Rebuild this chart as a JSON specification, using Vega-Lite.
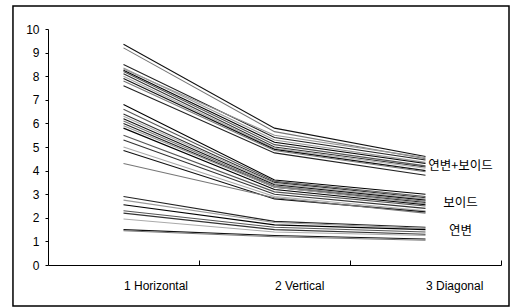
{
  "$schema": "https://vega.github.io/schema/vega-lite/v6.json",
  "width": 453,
  "height": 236,
  "padding": {"left": 12, "top": 5, "right": 2, "bottom": 3},
  "background": "white",
  "config": {
    "view": {"stroke": null},
    "axisY": {"tickCount": 11, "labelFontSize": 12, "labelOverlap": false, "tickSize": 3, "labelPadding": 6, "grid": false, "labelFont": "Liberation Sans", "labelColor": "#000", "domainColor": "#000", "tickColor": "#000", "title": null},
    "axisX": {"grid": false, "labelFont": "Liberation Sans", "labelFontSize": 12, "labelColor": "#000", "domainColor": "#000", "tickColor": "#000", "title": null}
  },
  "datasets": {
    "lines": [
      {"i":"a01","x":1,"y":9.35},{"i":"a01","x":2,"y":5.8},{"i":"a01","x":3,"y":4.6},
      {"i":"a02","x":1,"y":9.2},{"i":"a02","x":2,"y":5.65},{"i":"a02","x":3,"y":4.5},
      {"i":"a03","x":1,"y":8.5},{"i":"a03","x":2,"y":5.4},{"i":"a03","x":3,"y":4.45},
      {"i":"a04","x":1,"y":8.35},{"i":"a04","x":2,"y":5.3},{"i":"a04","x":3,"y":4.35},
      {"i":"a05","x":1,"y":8.25},{"i":"a05","x":2,"y":5.2},{"i":"a05","x":3,"y":4.3},
      {"i":"a06","x":1,"y":8.2},{"i":"a06","x":2,"y":5.1},{"i":"a06","x":3,"y":4.2},
      {"i":"a07","x":1,"y":8.1},{"i":"a07","x":2,"y":5.0},{"i":"a07","x":3,"y":4.15},
      {"i":"a08","x":1,"y":8.0},{"i":"a08","x":2,"y":4.95},{"i":"a08","x":3,"y":4.1},
      {"i":"a09","x":1,"y":7.9},{"i":"a09","x":2,"y":4.9},{"i":"a09","x":3,"y":4.0},
      {"i":"a10","x":1,"y":7.8},{"i":"a10","x":2,"y":4.85},{"i":"a10","x":3,"y":3.95},
      {"i":"a11","x":1,"y":7.6},{"i":"a11","x":2,"y":4.75},{"i":"a11","x":3,"y":3.8},
      {"i":"a12","x":1,"y":8.3},{"i":"a12","x":2,"y":5.5},{"i":"a12","x":3,"y":4.55},
      {"i":"b01","x":1,"y":6.8},{"i":"b01","x":2,"y":3.6},{"i":"b01","x":3,"y":3.0},
      {"i":"b02","x":1,"y":6.6},{"i":"b02","x":2,"y":3.55},{"i":"b02","x":3,"y":2.9},
      {"i":"b03","x":1,"y":6.4},{"i":"b03","x":2,"y":3.5},{"i":"b03","x":3,"y":2.85},
      {"i":"b04","x":1,"y":6.3},{"i":"b04","x":2,"y":3.45},{"i":"b04","x":3,"y":2.8},
      {"i":"b05","x":1,"y":6.2},{"i":"b05","x":2,"y":3.4},{"i":"b05","x":3,"y":2.75},
      {"i":"b06","x":1,"y":6.1},{"i":"b06","x":2,"y":3.35},{"i":"b06","x":3,"y":2.7},
      {"i":"b07","x":1,"y":6.0},{"i":"b07","x":2,"y":3.3},{"i":"b07","x":3,"y":2.65},
      {"i":"b08","x":1,"y":5.9},{"i":"b08","x":2,"y":3.3},{"i":"b08","x":3,"y":2.6},
      {"i":"b09","x":1,"y":5.8},{"i":"b09","x":2,"y":3.2},{"i":"b09","x":3,"y":2.55},
      {"i":"b10","x":1,"y":5.5},{"i":"b10","x":2,"y":3.1},{"i":"b10","x":3,"y":2.5},
      {"i":"b11","x":1,"y":5.3},{"i":"b11","x":2,"y":3.0},{"i":"b11","x":3,"y":2.4},
      {"i":"b12","x":1,"y":5.0},{"i":"b12","x":2,"y":2.9},{"i":"b12","x":3,"y":2.3},
      {"i":"b13","x":1,"y":4.85},{"i":"b13","x":2,"y":2.8},{"i":"b13","x":3,"y":2.25},
      {"i":"b14","x":1,"y":4.3},{"i":"b14","x":2,"y":2.85},{"i":"b14","x":3,"y":2.2},
      {"i":"c01","x":1,"y":2.9},{"i":"c01","x":2,"y":1.85},{"i":"c01","x":3,"y":1.6},
      {"i":"c02","x":1,"y":2.75},{"i":"c02","x":2,"y":1.8},{"i":"c02","x":3,"y":1.55},
      {"i":"c03","x":1,"y":2.55},{"i":"c03","x":2,"y":1.7},{"i":"c03","x":3,"y":1.5},
      {"i":"c04","x":1,"y":2.3},{"i":"c04","x":2,"y":1.6},{"i":"c04","x":3,"y":1.4},
      {"i":"c05","x":1,"y":2.2},{"i":"c05","x":2,"y":1.5},{"i":"c05","x":3,"y":1.3},
      {"i":"c06","x":1,"y":1.95},{"i":"c06","x":2,"y":1.4},{"i":"c06","x":3,"y":1.25},
      {"i":"c07","x":1,"y":1.5},{"i":"c07","x":2,"y":1.25},{"i":"c07","x":3,"y":1.1},
      {"i":"c08","x":1,"y":1.45},{"i":"c08","x":2,"y":1.2},{"i":"c08","x":3,"y":1.05}
    ],
    "labels": [
      {"t":"연변+보이드","x":3,"y":4.19},
      {"t":"보이드","x":3,"y":2.63},
      {"t":"연변","x":3,"y":1.44}
    ]
  },
  "layer": [
    {
      "data": {"name": "lines"},
      "mark": {"type": "line", "strokeWidth": 1.1},
      "encoding": {
        "x": {
          "field": "x", "type": "quantitative",
          "scale": {"domain": [0.5, 3.5], "nice": false, "zero": false},
          "axis": {
            "values": [1, 2, 3],
            "labelExpr": "datum.value == 1 ? '1  Horizontal' : datum.value == 2 ? '2  Vertical' : '3  Diagonal'",
            "labelAlign": "left", "tickOffset": 75.5, "labelOffset": -75.5,
            "tickSize": -5, "labelPadding": 20, "labelOverlap": false
          }
        },
        "y": {
          "field": "y", "type": "quantitative",
          "scale": {"domain": [0, 10], "nice": false},
          "axis": {"values": [0,1,2,3,4,5,6,7,8,9,10]}
        },
        "detail": {"field": "i"},
        "color": {
          "field": "i", "type": "nominal", "legend": null,
          "scale": {"range": ["#111", "#777", "#222", "#999", "#000", "#555", "#333", "#aaa"]}
        }
      }
    },
    {
      "data": {"values": [{}]},
      "mark": {"type": "rect", "fill": null, "stroke": "#000", "strokeWidth": 1.5, "clip": false},
      "encoding": {
        "x": {"datum": 0.268, "type": "quantitative"},
        "x2": {"datum": 3.553},
        "y": {"datum": -1.74, "type": "quantitative", "axis": {"values": [0,1,2,3,4,5,6,7,8,9,10]}},
        "y2": {"datum": 10.975}
      }
    },
    {
      "data": {"name": "labels"},
      "mark": {"type": "text", "align": "center", "baseline": "middle", "dx": 35, "font": "Noto Sans CJK KR", "fontSize": 12.5, "color": "#000"},
      "encoding": {
        "x": {"field": "x", "type": "quantitative"},
        "y": {"field": "y", "type": "quantitative", "axis": {"values": [0,1,2,3,4,5,6,7,8,9,10]}},
        "text": {"field": "t"}
      }
    }
  ]
}
